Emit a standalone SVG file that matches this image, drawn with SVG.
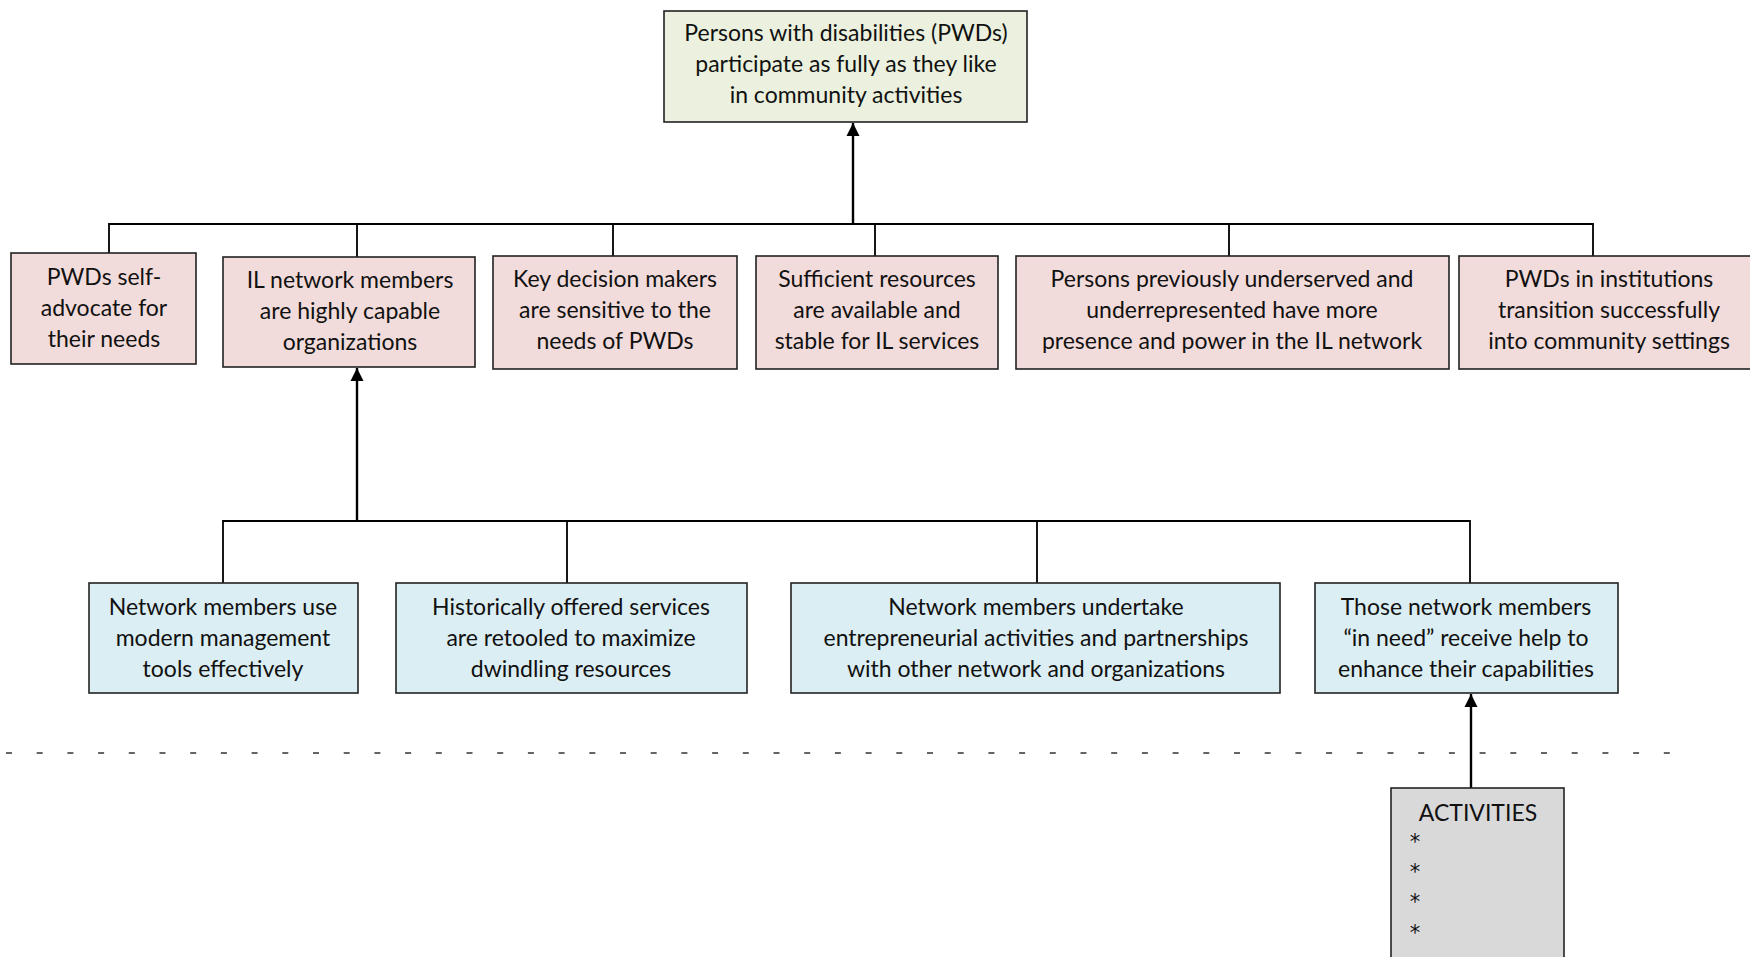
<svg xmlns="http://www.w3.org/2000/svg" width="1750" height="957" viewBox="0 0 1750 957">
<defs>
<marker id="ah" viewBox="0 0 10 10" refX="10" refY="5" markerWidth="5.5" markerHeight="5.5" markerUnits="strokeWidth" orient="auto">
<path d="M0,0 L10,5 L0,10 Z" fill="#000"/>
</marker>
<style>
.box{stroke:#222;stroke-width:1.6}
.g{fill:#EBF1DE}
.p{fill:#F2DCDB}
.b{fill:#DBEEF3}
.a{fill:#D9D9D9}
text{font-family:Lato,"Open Sans","Liberation Sans",sans-serif;font-size:23px;fill:#111;text-anchor:middle}
.st{font-family:"DejaVu Sans","Liberation Sans",sans-serif;font-size:21px}
.l{stroke:#000;stroke-width:1.8;fill:none}
.ar{stroke:#000;stroke-width:2.4;fill:none;marker-end:url(#ah)}
.d{stroke:#333;stroke-width:1.3;stroke-dasharray:6 24.7;fill:none}
</style>
</defs>
<rect width="1750" height="957" fill="#fff"/>
<g id="connectors">
<path class="ar" d="M853,224 V123"/>
<path class="l" d="M109,253 V224 H1593 V257 M357,224 V257 M613,224 V256 M875,224 V258 M1229,224 V256"/>
<path class="ar" d="M357,521 V368"/>
<path class="l" d="M223,583 V521 H1470 V583 M567,521 V583 M1037,521 V583"/>
<path class="ar" d="M1471,788 V694"/>
<path class="d" d="M6,753 H1680"/>
</g>
<g id="goal">
<rect class="box g" x="664" y="11" width="363" height="111"/>
<text x="846" y="41">Persons with disabilities (PWDs)</text>
<text x="846" y="72">participate as fully as they like</text>
<text x="846" y="103">in community activities</text>
</g>
<g id="o1">
<rect class="box p" x="11" y="253" width="185" height="111"/>
<text x="104" y="285">PWDs self-</text>
<text x="104" y="316">advocate for</text>
<text x="104" y="347">their needs</text>
</g>
<g id="o2">
<rect class="box p" x="223" y="257" width="252" height="110"/>
<text x="350" y="288">IL network members</text>
<text x="350" y="319">are highly capable</text>
<text x="350" y="350">organizations</text>
</g>
<g id="o3">
<rect class="box p" x="493" y="256" width="244" height="113"/>
<text x="615" y="287">Key decision makers</text>
<text x="615" y="318">are sensitive to the</text>
<text x="615" y="349">needs of PWDs</text>
</g>
<g id="o4">
<rect class="box p" x="756" y="256" width="242" height="113"/>
<text x="877" y="287">Sufficient resources</text>
<text x="877" y="318">are available and</text>
<text x="877" y="349">stable for IL services</text>
</g>
<g id="o5">
<rect class="box p" x="1016" y="256" width="433" height="113"/>
<text x="1232" y="287">Persons previously underserved and</text>
<text x="1232" y="318">underrepresented have more</text>
<text x="1232" y="349">presence and power in the IL network</text>
</g>
<g id="o6">
<rect class="box p" x="1459" y="256" width="300" height="113"/>
<text x="1609" y="287">PWDs in institutions</text>
<text x="1609" y="318">transition successfully</text>
<text x="1609" y="349">into community settings</text>
</g>
<g id="s1">
<rect class="box b" x="89" y="583" width="269" height="110"/>
<text x="223" y="615">Network members use</text>
<text x="223" y="646">modern management</text>
<text x="223" y="677">tools effectively</text>
</g>
<g id="s2">
<rect class="box b" x="396" y="583" width="351" height="110"/>
<text x="571" y="615">Historically offered services</text>
<text x="571" y="646">are retooled to maximize</text>
<text x="571" y="677">dwindling resources</text>
</g>
<g id="s3">
<rect class="box b" x="791" y="583" width="489" height="110"/>
<text x="1036" y="615">Network members undertake</text>
<text x="1036" y="646">entrepreneurial activities and partnerships</text>
<text x="1036" y="677">with other network and organizations</text>
</g>
<g id="s4">
<rect class="box b" x="1315" y="583" width="303" height="110"/>
<text x="1466" y="615">Those network members</text>
<text x="1466" y="646">“in need” receive help to</text>
<text x="1466" y="677">enhance their capabilities</text>
</g>
<g id="activities">
<rect class="box a" x="1391" y="788" width="173" height="180"/>
<text x="1478" y="821">ACTIVITIES</text>
<text class="st" x="1415" y="849">*</text>
<text class="st" x="1415" y="879">*</text>
<text class="st" x="1415" y="909">*</text>
<text class="st" x="1415" y="940">*</text>
</g>
</svg>
